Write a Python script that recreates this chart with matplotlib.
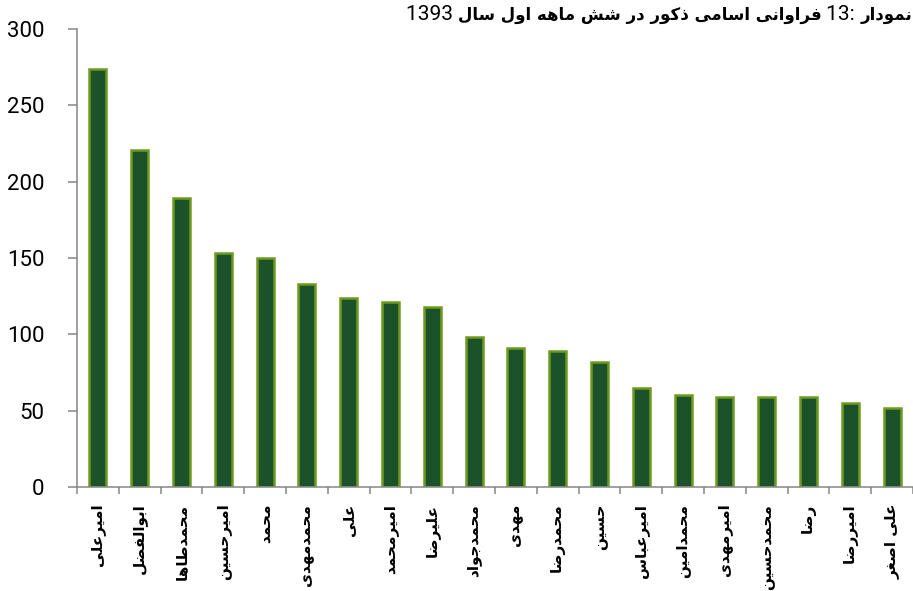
import matplotlib
matplotlib.use('Agg')
import matplotlib.pyplot as plt
import numpy as np

# names (logical order) and counts
names = ['امیرعلی', 'ابوالفضل', 'محمدطاها', 'امیرحسین', 'محمد', 'محمدمهدی',
         'علی', 'امیرمحمد', 'علیرضا', 'محمدجواد', 'مهدی', 'محمدرضا', 'حسین',
         'امیرعباس', 'محمدامین', 'امیرمهدی', 'محمدحسین', 'رضا', 'امیررضا',
         'علی اصغر']
counts = [274, 221, 189, 153, 150, 133, 124, 121, 118, 98, 91, 89, 82,
          65, 60, 59, 59, 59, 55, 52]
yticks = [0, 50, 100, 150, 200, 250, 300]

title_label = 'نمودار'
title_num = '13:'
title_text = 'فراوانی اسامی ذکور در شش ماهه اول سال'
title_year = '1393'

# simple Arabic/Persian shaping: (isolated, final, initial, medial)
FORMS = {
    'ا': (0xFE8D, 0xFE8E, None, None),
    'ب': (0xFE8F, 0xFE90, 0xFE91, 0xFE92),
    'ت': (0xFE95, 0xFE96, 0xFE97, 0xFE98),
    'ج': (0xFE9D, 0xFE9E, 0xFE9F, 0xFEA0),
    'ح': (0xFEA1, 0xFEA2, 0xFEA3, 0xFEA4),
    'د': (0xFEA9, 0xFEAA, None, None),
    'ذ': (0xFEAB, 0xFEAC, None, None),
    'ر': (0xFEAD, 0xFEAE, None, None),
    'ز': (0xFEAF, 0xFEB0, None, None),
    'س': (0xFEB1, 0xFEB2, 0xFEB3, 0xFEB4),
    'ش': (0xFEB5, 0xFEB6, 0xFEB7, 0xFEB8),
    'ص': (0xFEB9, 0xFEBA, 0xFEBB, 0xFEBC),
    'ض': (0xFEBD, 0xFEBE, 0xFEBF, 0xFEC0),
    'ط': (0xFEC1, 0xFEC2, 0xFEC3, 0xFEC4),
    'ع': (0xFEC9, 0xFECA, 0xFECB, 0xFECC),
    'غ': (0xFECD, 0xFECE, 0xFECF, 0xFED0),
    'ف': (0xFED1, 0xFED2, 0xFED3, 0xFED4),
    'ق': (0xFED5, 0xFED6, 0xFED7, 0xFED8),
    'ل': (0xFEDD, 0xFEDE, 0xFEDF, 0xFEE0),
    'م': (0xFEE1, 0xFEE2, 0xFEE3, 0xFEE4),
    'ن': (0xFEE5, 0xFEE6, 0xFEE7, 0xFEE8),
    'ه': (0xFEE9, 0xFEEA, 0xFEEB, 0xFEEC),
    'و': (0xFEED, 0xFEEE, None, None),
    'ی': (0xFBFC, 0xFBFD, 0xFBFE, 0xFBFF),
    'ک': (0xFB8E, 0xFB8F, 0xFB90, 0xFB91),
}


def shape(text):
    out = []
    for i, c in enumerate(text):
        if c not in FORMS:
            out.append(c)
            continue
        iso, fin, ini, med = FORMS[c]
        prev = text[i - 1] if i > 0 else ''
        nxt = text[i + 1] if i + 1 < len(text) else ''
        jp = prev in FORMS and FORMS[prev][2] is not None
        jn = ini is not None and nxt in FORMS
        if jp and jn:
            code = med
        elif jp:
            code = fin
        elif jn:
            code = ini
        else:
            code = iso
        out.append(chr(code))
    return ''.join(reversed(out))


plt.rcParams['font.family'] = ['DejaVu Sans']
num_font = ['Roboto', 'DejaVu Sans']

fig = plt.figure(figsize=(9.13, 5.91), dpi=100)
ax = fig.add_axes([77 / 913, 1 - 487 / 591, 836 / 913, 458 / 591])

x = np.arange(len(names))
ax.bar(x, counts, width=0.41, color='#1c5229', edgecolor='#6e9a1e',
       linewidth=1.8, zorder=2)

ax.set_xlim(-0.5, 19.4)
ax.set_ylim(0, 300)
ax.set_yticks(yticks)
ax.set_yticklabels([str(v) for v in yticks], family=num_font, fontsize=16)
ax.tick_params(axis='y', length=6.5, width=1.1, color='#868686', pad=17)

ax.set_xticks(x)
ax.set_xticklabels([shape(n) for n in names], rotation=90, fontsize=11,
                   fontweight='bold', va='top', ha='center')
ax.set_xticks(np.arange(-0.5, 20, 1), minor=True)
ax.tick_params(axis='x', which='major', length=0, pad=12)
ax.tick_params(axis='x', which='minor', length=5, width=1.1, color='#868686')

for side in ['top', 'right']:
    ax.spines[side].set_visible(False)
for side in ['left', 'bottom']:
    ax.spines[side].set_color('#868686')
    ax.spines[side].set_linewidth(1.1)

# title built right-to-left from pieces
pieces = [
    (shape(title_label), dict(fontweight='bold', fontsize=12)),
    (' ' + title_num + ' ', dict(family=num_font, fontsize=15)),
    (shape(title_text), dict(fontweight='bold', fontsize=12)),
    (title_year + ' ', dict(family=num_font, fontsize=15)),
]
renderer = fig.canvas.get_renderer()
xr = 912
yb = 591 - 20
for txt, kw in pieces:
    t = fig.text(xr / 913, yb / 591, txt, ha='right', va='baseline', **kw)
    w = t.get_window_extent(renderer).width
    xr -= w

fig.savefig('out.png', dpi=100)
